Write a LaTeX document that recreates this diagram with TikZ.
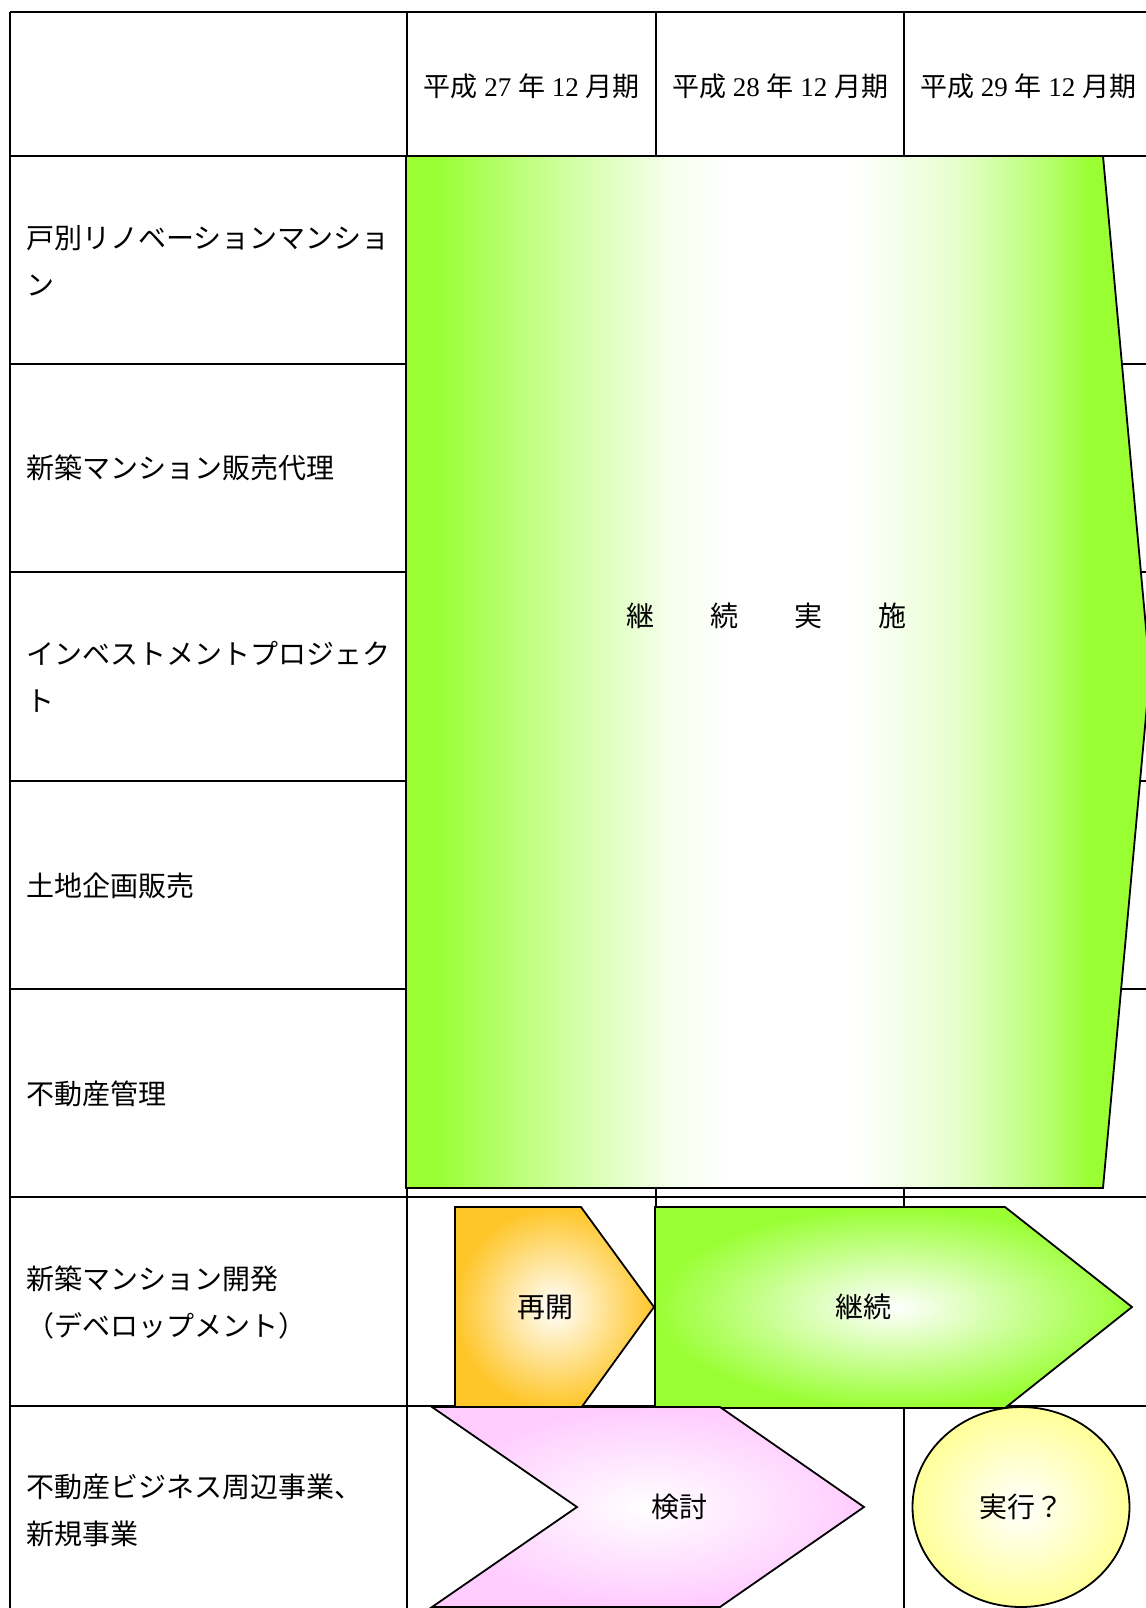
\documentclass[tikz,border=0pt]{standalone}
\usepackage{fontspec}
\setmainfont{Liberation Serif}
\newfontfamily\jp{Noto Sans CJK JP}
\usetikzlibrary{shapes.geometric}
\definecolor{leafgreen}{RGB}{153,255,51}
\definecolor{amber}{RGB}{255,198,41}
\definecolor{lilac}{RGB}{255,204,255}
\definecolor{cream}{RGB}{255,255,153}
\pgfdeclarehorizontalshading{wideband}{100bp}{color(0bp)=(leafgreen); color(27bp)=(leafgreen); color(36bp)=(leafgreen!45); color(43bp)=(leafgreen!8); color(47bp)=(white); color(55bp)=(white); color(62bp)=(leafgreen!25); color(68bp)=(leafgreen!70); color(71bp)=(leafgreen); color(100bp)=(leafgreen)}
\newcommand{\period}[1]{{\jp 平成}\hspace{0.25em}#1\hspace{0.25em}{\jp 年}\hspace{0.25em}12\hspace{0.25em}{\jp 月期}}
\begin{document}
\begin{tikzpicture}[x=0.5pt, y=-0.5pt,
  tableline/.style={line width=0.8pt},
  block/.style={draw, line width=0.9pt, line join=miter},
  head/.style={inner sep=0pt, font=\fontsize{13.5pt}{16pt}\selectfont},
  rowlabel/.style={anchor=west, align=left, inner sep=0pt, font=\fontsize{14pt}{23.5pt}\selectfont\jp},
  tag/.style={inner sep=0pt, font=\fontsize{14pt}{16pt}\selectfont\jp}]
\useasboundingbox (0,0) rectangle (1146,1608);
\clip (0,0) rectangle (1146,1608);
\fill[white] (0,0) rectangle (1146,1608);
\draw [tableline] (10,12) -- (1152,12);
\draw [tableline] (10,156) -- (1152,156);
\draw [tableline] (10,364) -- (1152,364);
\draw [tableline] (10,572) -- (1152,572);
\draw [tableline] (10,781) -- (1152,781);
\draw [tableline] (10,989) -- (1152,989);
\draw [tableline] (10,1197) -- (1152,1197);
\draw [tableline] (10,1406) -- (1152,1406);
\draw [tableline] (10,1612) -- (1152,1612);
\draw [tableline] (10,12) -- (10,1612);
\draw [tableline] (407,12) -- (407,1612);
\draw [tableline] (656,12) -- (656,1612);
\draw [tableline] (904,12) -- (904,1612);
\draw [tableline] (1152,12) -- (1152,1612);
\node [head] (p27) at (531.5,86) {\period{27}};
\node [head] (p28) at (780,86) {\period{28}};
\node [head] (p29) at (1028,86) {\period{29}};
\node [rowlabel] (renov) at (26,261) {戸別リノベーションマンショ\\ン};
\node [rowlabel] (agency) at (26,468) {新築マンション販売代理};
\node [rowlabel] (invest) at (26,677) {インベストメントプロジェク\\ト};
\node [rowlabel] (land) at (26,886) {土地企画販売};
\node [rowlabel] (manage) at (26,1094) {不動産管理};
\node [rowlabel] (develop) at (26,1302) {新築マンション開発\\（デベロップメント）};
\node [rowlabel] (newbiz) at (26,1510) {不動産ビジネス周辺事業、\\新規事業};
\draw [block, shading=wideband] (406,156) -- (1103,156) -- (1150,672) -- (1103,1188) -- (406,1188) -- cycle;
\node [tag] (ongoing) at (766,616) {継　　続　　実　　施};
\draw [block, inner color=white, outer color=amber] (455,1207) -- (581,1207) -- (654,1307) -- (581,1408) -- (455,1408) -- cycle;
\node [tag] (resume) at (545,1307) {再開};
\draw [block, inner color=white, outer color=leafgreen] (655,1207) -- (1005,1207) -- (1132,1307) -- (1005,1408) -- (655,1408) -- cycle;
\node [tag] (cont) at (863,1307) {継続};
\draw [block, inner color=white, outer color=lilac] (432,1407) -- (720,1407) -- (864,1507) -- (720,1607) -- (432,1607) -- (577,1507) -- cycle;
\node [tag] (review) at (679,1507) {検討};
\node [block, ellipse, minimum width=108.5pt, minimum height=100pt, inner color=white, outer color=cream, tag] (exec) at (1021,1507) {実行？};
\end{tikzpicture}
\end{document}
